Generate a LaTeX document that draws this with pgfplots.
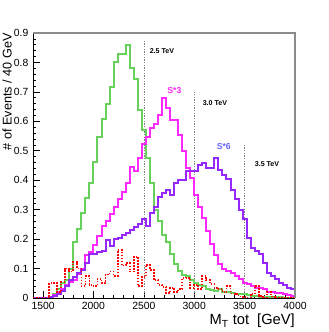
\documentclass[border=0pt]{standalone}
\usepackage{fontspec}
\setmainfont{Liberation Sans}
\usepackage{pgfplots}
\pgfplotsset{compat=1.18}
\definecolor{hgreen}{RGB}{102,210,90}
\definecolor{hmag}{RGB}{255,40,255}
\definecolor{hpurp}{RGB}{150,40,255}
\definecolor{s6col}{RGB}{100,100,255}
\definecolor{hred}{RGB}{255,0,0}
\definecolor{framegray}{RGB}{140,140,140}
\begin{document}
\begin{tikzpicture}
\begin{axis}[name=ax, scale only axis, width=196.5pt, height=198.75pt,
  xmin=1400, xmax=4000, ymin=0, ymax=0.9, enlargelimits=false,
  axis x line*=bottom, axis y line*=left,
  axis line style={black, line width=0.6pt},
  tick align=inside,
  xtick={1500,2000,2500,3000,3500,4000}, minor x tick num=4,
  ytick={0,0.1,0.2,0.3,0.4,0.5,0.6,0.7,0.8,0.9}, minor y tick num=4,
  major tick length=5pt, minor tick length=2.5pt,
  tick style={black, line width=0.5pt},
  scaled ticks=false,
  /pgf/number format/1000 sep={},
  /pgf/number format/assume math mode=true,
  yticklabel style={/pgf/number format/fixed, /pgf/number format/precision=1},
  ticklabel style={font=\fontsize{7.8}{9}\selectfont},
  xlabel={M\textsubscript{T} tot\ \ [GeV]},
  xlabel style={at={(axis description cs:1,0)}, anchor=north east, yshift=-12pt, inner sep=0pt, font=\fontsize{11}{13}\selectfont},
  ylabel={\# of Events / 40 GeV},
  ylabel style={at={(axis description cs:-0.08,1)}, anchor=south east, inner sep=0pt, font=\fontsize{9.5}{11}\selectfont},
]
\addplot[gray, line width=0.5pt, dash pattern=on 1pt off 1pt] coordinates {(2500,0) (2500,0.876)};
\addplot[gray, line width=0.5pt, dash pattern=on 1pt off 1pt] coordinates {(3000,0) (3000,0.70)};
\addplot[gray, line width=0.5pt, dash pattern=on 1pt off 1pt] coordinates {(3500,0) (3500,0.52)};
% green: 2.5 TeV
\addplot[hgreen, line width=1.5pt, const plot] coordinates {
(1400,0)(1440,0)(1480,0)(1520,0)(1560,0.005)(1600,0.015)(1640,0.03)(1680,0.05)(1720,0.06)(1760,0.10)
(1800,0.19)(1840,0.235)(1880,0.29)(1920,0.34)(1960,0.39)(2000,0.463)(2040,0.548)(2080,0.607)(2120,0.658)(2160,0.716)
(2200,0.80)(2240,0.828)(2280,0.828)(2320,0.858)(2360,0.782)(2400,0.743)(2440,0.639)(2480,0.57)(2520,0.477)(2560,0.39)
(2600,0.30)(2640,0.26)(2680,0.215)(2720,0.19)(2760,0.15)(2800,0.115)(2840,0.09)(2880,0.078)(2920,0.075)(2960,0.06)
(3000,0.05)(3040,0.045)(3080,0.04)(3120,0.032)(3160,0.028)(3200,0.025)(3240,0.03)(3280,0.022)(3320,0.02)(3360,0.018)
(3400,0.015)(3440,0.012)(3480,0.012)(3520,0.01)(3560,0.008)(3600,0.006)(3640,0.005)(3680,0.004)(3720,0.003)(3760,0.003)
(3800,0.002)(3840,0.002)(3880,0.001)(3920,0)(3960,0)(4000,0)};
% magenta: S*3
\addplot[hmag, line width=1.5pt, const plot] coordinates {
(1400,0)(1440,0)(1480,0)(1520,0)(1560,0.003)(1600,0.01)(1640,0.02)(1680,0.03)(1720,0.045)(1760,0.055)
(1800,0.06)(1840,0.08)(1880,0.10)(1920,0.145)(1960,0.155)(2000,0.18)(2040,0.21)(2080,0.245)(2120,0.26)(2160,0.285)
(2200,0.31)(2240,0.335)(2280,0.36)(2320,0.39)(2360,0.445)(2400,0.43)(2440,0.475)(2480,0.523)(2520,0.548)(2560,0.578)
(2600,0.591)(2640,0.622)(2680,0.678)(2720,0.644)(2760,0.605)(2800,0.605)(2840,0.554)(2880,0.50)(2920,0.44)(2960,0.407)
(3000,0.35)(3040,0.31)(3080,0.273)(3120,0.228)(3160,0.185)(3200,0.147)(3240,0.114)(3280,0.10)(3320,0.09)(3360,0.084)
(3400,0.075)(3440,0.063)(3480,0.05)(3520,0.046)(3560,0.041)(3600,0.035)(3640,0.033)(3680,0.03)(3720,0.022)(3760,0.02)
(3800,0.018)(3840,0.016)(3880,0.013)(3920,0.01)(3960,0.007)(4000,0.007)};
% purple: S*6
\addplot[hpurp, line width=1.5pt, const plot] coordinates {
(1400,0)(1440,0)(1480,0)(1520,0)(1560,0.003)(1600,0.008)(1640,0.015)(1680,0.025)(1720,0.04)(1760,0.06)
(1800,0.07)(1840,0.085)(1880,0.095)(1920,0.12)(1960,0.15)(2000,0.15)(2040,0.155)(2080,0.16)(2120,0.197)(2160,0.175)
(2200,0.20)(2240,0.205)(2280,0.215)(2320,0.22)(2360,0.23)(2400,0.242)(2440,0.25)(2480,0.267)(2520,0.245)(2560,0.288)
(2600,0.31)(2640,0.344)(2680,0.356)(2720,0.367)(2760,0.35)(2800,0.39)(2840,0.40)(2880,0.40)(2920,0.43)(2960,0.43)
(3000,0.43)(3040,0.45)(3080,0.46)(3120,0.44)(3160,0.44)(3200,0.474)(3240,0.435)(3280,0.418)(3320,0.403)(3360,0.367)
(3400,0.335)(3440,0.30)(3480,0.267)(3520,0.205)(3560,0.171)(3600,0.16)(3640,0.148)(3680,0.12)(3720,0.086)(3760,0.075)
(3800,0.063)(3840,0.052)(3880,0.045)(3920,0.035)(3960,0.032)(4000,0.032)};
% red dotted: background
\addplot[hred, line width=1.3pt, dash pattern=on 1.1pt off 1.1pt, const plot] coordinates {
(1400,0)(1440,0)(1480,0)(1520,0)(1560,0.05)(1600,0.05)(1640,0.02)(1680,0.055)(1720,0.10)(1760,0.09)
(1800,0.123)(1840,0.10)(1880,0.04)(1920,0.075)(1960,0.045)(2000,0.04)(2040,0.065)(2080,0.05)(2120,0.08)(2160,0.09)
(2200,0.075)(2240,0.163)(2280,0.11)(2320,0.118)(2360,0.09)(2400,0.14)(2440,0.04)(2480,0.072)(2520,0.112)(2560,0.095)
(2600,0.061)(2640,0.045)(2680,0.038)(2720,0.016)(2760,0.034)(2800,0.02)(2840,0.03)(2880,0.067)(2920,0.069)(2960,0.035)
(3000,0.045)(3040,0.03)(3080,0.075)(3120,0.06)(3160,0.047)(3200,0.035)(3240,0.03)(3280,0.02)(3320,0.04)(3360,0.015)
(3400,0.013)(3440,0.005)(3480,0.003)(3520,0)(3560,0.013)(3600,0.041)(3640,0.008)(3680,0)(3720,0.02)(3760,0.005)
(3800,0)(3840,0)(3880,0)(3920,0)(3960,0)(4000,0)};
\node[anchor=west, inner sep=0pt, font=\fontsize{5.3}{6}\selectfont\bfseries] at (axis cs:2556,0.837) {2.5 TeV};
\node[anchor=west, inner sep=0pt, font=\fontsize{5.3}{6}\selectfont\bfseries] at (axis cs:3082,0.661) {3.0 TeV};
\node[anchor=west, inner sep=0pt, font=\fontsize{5.3}{6}\selectfont\bfseries] at (axis cs:3599,0.455) {3.5 TeV};
\node[inner sep=0pt, text=hmag, font=\fontsize{6.5}{7}\selectfont\bfseries] at (axis cs:2803,0.706) {S*3};
\node[inner sep=0pt, text=s6col, font=\fontsize{6.5}{7}\selectfont\bfseries] at (axis cs:3293,0.514) {S*6};
\end{axis}
\draw[framegray, line width=1.5pt] (ax.north west) -- (ax.north east) -- (ax.south east);
\pgfresetboundingbox
\path[use as bounding box] ([shift={(-24.75pt,-25.5pt)}]ax.south west) rectangle ([shift={(24.75pt,24.75pt)}]ax.north east);
\end{tikzpicture}
\end{document}
